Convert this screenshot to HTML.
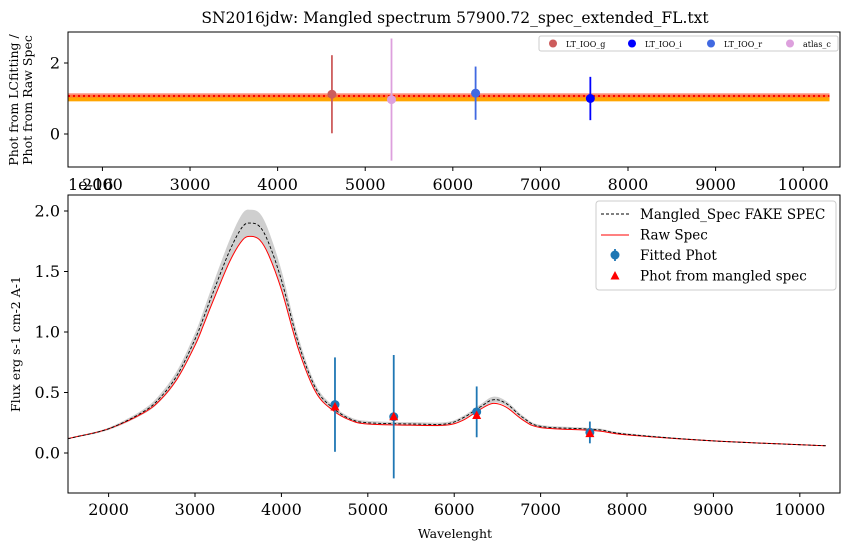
<!DOCTYPE html>
<html><head><meta charset="utf-8"><style>
body{margin:0;background:#fff;}
svg{display:block;font-family:"DejaVu Serif","Liberation Serif",serif;}
</style></head><body>
<svg id="fig" width="853" height="550" viewBox="0 0 853 550">
<text x="455" y="23" font-size="15.5" text-anchor="middle">SN2016jdw: Mangled spectrum 57900.72_spec_extended_FL.txt</text>
</svg>
<script>
// ---------- data ----------
const specWave = [1530,1600,2000,2400,2600,2800,3000,3100,3200,3400,3550,3650,3750,3850,4000,4200,4400,4600,4800,5000,5500,5900,6100,6300,6450,6600,6800,7000,7500,7700,8000,9000,10300];
const rawFlux  = [0.12,0.13,0.20,0.33,0.44,0.62,0.89,1.06,1.24,1.58,1.76,1.79,1.76,1.64,1.35,0.85,0.50,0.35,0.27,0.24,0.23,0.23,0.27,0.36,0.41,0.38,0.27,0.21,0.19,0.18,0.15,0.10,0.06];
const mangFlux = [0.12,0.13,0.20,0.34,0.46,0.65,0.94,1.12,1.31,1.67,1.87,1.90,1.87,1.74,1.43,0.90,0.53,0.37,0.28,0.25,0.24,0.24,0.29,0.38,0.44,0.41,0.29,0.22,0.20,0.19,0.155,0.10,0.06];
const mangErr  = [0.005,0.005,0.01,0.02,0.03,0.04,0.05,0.06,0.07,0.09,0.11,0.11,0.11,0.10,0.08,0.05,0.03,0.02,0.015,0.015,0.015,0.015,0.015,0.02,0.025,0.02,0.015,0.012,0.01,0.01,0.008,0.005,0.003];
const photWave = [4620,5300,6260,7570];
const photFlux = [0.40,0.30,0.34,0.17];
const photErr  = [0.39,0.51,0.21,0.09];
const mangPhot = [0.38,0.30,0.31,0.16];
const ratioName = ["LT_IOO_g","atlas_c","LT_IOO_r","LT_IOO_i"];
const ratioVal  = [1.12,0.97,1.15,1.00];
const ratioErr  = [1.10,1.72,0.75,0.61];
const ratioColor= ["#cd5c5c","#dda0dd","#4169e1","#0000ff"];
const bottomXTicks=[2000,3000,4000,5000,6000,7000,8000,9000,10000];
const bottomYTicks=[0,0.5,1.0,1.5,2.0];
const topXTicks=[2000,3000,4000,5000,6000,7000,8000,9000,10000];
const topYTicks=[0,2];

const svg=document.getElementById('fig');
const NS='http://www.w3.org/2000/svg';
function mk(tag,attrs,parent){const e=document.createElementNS(NS,tag);for(const k in attrs)e.setAttribute(k,attrs[k]);(parent||svg).appendChild(e);return e;}

// ---------- top panel ----------
const T={l:68,r:840,t:32,b:167};
const tx=w=>T.l+(w-1607)/(10420-1607)*(T.r-T.l);
const ty=v=>134-v*35.5;
const topG=mk('g',{});


const ob=mk('rect',{x:tx(1607),y:ty(1.10),width:tx(10300)-tx(1607),height:ty(0.92)-ty(1.10),fill:'#ffa500'},topG);

const rb=mk('rect',{x:tx(1607),y:ty(1.146),width:tx(10300)-tx(1607),height:ty(1.03)-ty(1.146),fill:'#ff6347',opacity:0.75},topG);

const rl=mk('line',{x1:tx(1607),x2:tx(10300),y1:ty(1.07),y2:ty(1.07),stroke:'#ff0000','stroke-width':2,'stroke-dasharray':'2,3'},topG);

ratioVal.forEach((v,i)=>{
  const g=mk('g',{},topG);
  
  
  mk('line',{x1:tx(photWave[i]),x2:tx(photWave[i]),y1:ty(v-ratioErr[i]),y2:ty(v+ratioErr[i]),stroke:ratioColor[i],'stroke-width':1.8},g);
  mk('circle',{cx:tx(photWave[i]),cy:ty(v),r:4.5,fill:ratioColor[i]},g);
});
mk('rect',{x:T.l,y:T.t,width:T.r-T.l,height:T.b-T.t,fill:'none',stroke:'#000','stroke-width':1},topG);
topYTicks.forEach(v=>{
  mk('line',{x1:T.l-4,x2:T.l,y1:ty(v),y2:ty(v),stroke:'#000'},topG);
  const t=mk('text',{x:T.l-8,y:ty(v)+5.5,'font-size':16,'text-anchor':'end'},topG);t.textContent=v;
  
});
topXTicks.forEach(v=>{
  mk('line',{x1:tx(v),x2:tx(v),y1:T.b,y2:T.b+4,stroke:'#000'},topG);
  const t=mk('text',{x:tx(v),y:190,'font-size':16,'text-anchor':'middle'},topG);t.textContent=v;
  
});
const oe=mk('text',{x:68,y:190,'font-size':16},topG);oe.textContent='1e-16';

const tyl=mk('text',{transform:'translate(20,100) rotate(-90)','font-size':12.5,'text-anchor':'middle'},topG);
tyl.innerHTML='<tspan x="0" dy="-2">Phot from LCfitting /</tspan><tspan x="0" dy="14">Phot from Raw Spec</tspan>';

// top legend
const tl=mk('g',{},topG);
mk('rect',{x:539,y:36,width:299,height:15,fill:'#fff',stroke:'#ccc',rx:2},tl);
[["LT_IOO_g","#cd5c5c"],["LT_IOO_i","#0000ff"],["LT_IOO_r","#4169e1"],["atlas_c","#dda0dd"]].forEach((e,i)=>{
  const x=553+i*79;
  mk('circle',{cx:x,cy:43.5,r:4,fill:e[1]},tl);
  const t=mk('text',{x:x+13,y:47,'font-size':8},tl);t.textContent=e[0];
  
});

// ---------- bottom panel ----------
const B={l:68,r:840,t:195,b:493};
const bx=w=>B.l+(w-1530)/(10465-1530)*(B.r-B.l);
const by=v=>453-v*121;
const botG=mk('g',{});

function pts(xs,ys){return xs.map((x,i)=>[bx(x),by(ys[i])]);}
function smoothPts(p,start){let d=(start?'M':'L')+p[0][0]+','+p[0][1];
  for(let i=0;i<p.length-1;i++){const p0=p[Math.max(0,i-1)],p1=p[i],p2=p[i+1],p3=p[Math.min(p.length-1,i+2)];
    const c1=[p1[0]+(p2[0]-p0[0])/6,p1[1]+(p2[1]-p0[1])/6],c2=[p2[0]-(p3[0]-p1[0])/6,p2[1]-(p3[1]-p1[1])/6];
    d+='C'+c1.join(',')+' '+c2.join(',')+' '+p2.join(',');}
  return d;}
const up=pts(specWave,mangFlux.map((v,i)=>v+mangErr[i]));
const lo=pts(specWave,mangFlux.map((v,i)=>v-mangErr[i])).reverse();
const bp=mk('path',{d:smoothPts(up,true)+smoothPts(lo,false)+'Z',fill:'#bbbbbb',opacity:0.7},botG);

const rawP=mk('path',{d:smoothPts(pts(specWave,rawFlux),true),fill:'none',stroke:'#ff0000','stroke-width':1},botG);

const mP=mk('path',{d:smoothPts(pts(specWave,mangFlux),true),fill:'none',stroke:'#000','stroke-width':0.9,'stroke-dasharray':'3,2'},botG);

photWave.forEach((w,i)=>{
  const g=mk('g',{},botG);
  mk('line',{x1:bx(w),x2:bx(w),y1:by(photFlux[i]-photErr[i]),y2:by(photFlux[i]+photErr[i]),stroke:'#1f77b4','stroke-width':1.8},g);
  mk('circle',{cx:bx(w),cy:by(photFlux[i]),r:4.5,fill:'#1f77b4'},g);
  const x=bx(w),y=by(mangPhot[i]);
  const tr=mk('path',{d:`M${x},${y-5}L${x+4.5},${y+3.5}L${x-4.5},${y+3.5}Z`,fill:'#ff0000'},botG);
  
});
mk('rect',{x:B.l,y:B.t,width:B.r-B.l,height:B.b-B.t,fill:'none',stroke:'#000','stroke-width':1},botG);
bottomYTicks.forEach(v=>{
  mk('line',{x1:B.l-4,x2:B.l,y1:by(v),y2:by(v),stroke:'#000'},botG);
  const t=mk('text',{x:B.l-8,y:by(v)+5.5,'font-size':16,'text-anchor':'end'},botG);t.textContent=v.toFixed(1);
  
});
bottomXTicks.forEach(v=>{
  mk('line',{x1:bx(v),x2:bx(v),y1:B.b,y2:B.b+4,stroke:'#000'},botG);
  const t=mk('text',{x:bx(v),y:515,'font-size':16,'text-anchor':'middle'},botG);t.textContent=v;
  
});
const xl=mk('text',{x:455,y:538,'font-size':12.5,'text-anchor':'middle'},botG);xl.textContent='Wavelenght';

const yl=mk('text',{transform:'translate(20,344) rotate(-90)','font-size':12.5,'text-anchor':'middle'},botG);yl.textContent='Flux erg s-1 cm-2 A-1';

// legend
const lg=mk('g',{},botG);
mk('rect',{x:596,y:201,width:240,height:89,fill:'#fff',stroke:'#ccc',rx:3},lg);
mk('line',{x1:601,x2:629,y1:214,y2:214,stroke:'#000','stroke-dasharray':'3,2'},lg);
mk('line',{x1:601,x2:629,y1:235,y2:235,stroke:'#ff0000'},lg);
mk('line',{x1:615,x2:615,y1:249,y2:261,stroke:'#1f77b4','stroke-width':1.8},lg);
mk('circle',{cx:615,cy:255,r:4.5,fill:'#1f77b4'},lg);
mk('path',{d:'M615,271L619.5,279.5L610.5,279.5Z',fill:'#ff0000'},lg);
["Mangled_Spec FAKE SPEC","Raw Spec","Fitted Phot","Phot from mangled spec"].forEach((s,i)=>{
  const t=mk('text',{x:640,y:219+i*20.5,'font-size':13.5},lg);t.textContent=s;
  
});
</script>
</body></html>
